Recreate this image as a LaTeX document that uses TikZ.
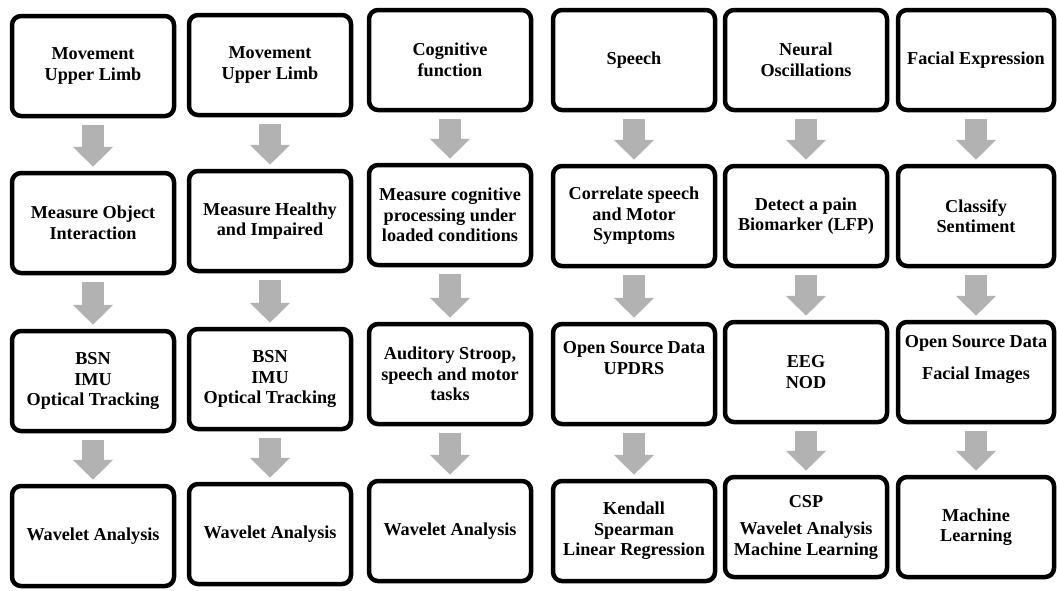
\documentclass[tikz,border=0pt]{standalone}
\usepackage{fontspec}
\setmainfont{Liberation Serif}
\usetikzlibrary{arrows.meta,shadows}

\definecolor{arrowgrey}{RGB}{178,178,178}

\tikzset{
  stage/.style={draw, line width=4.5pt, rounded corners=9pt, fill=white,
    minimum width=162pt, minimum height=100pt, inner sep=1pt, align=center,
    font=\bfseries\fontsize{18.2}{20.5}\selectfont,
    drop shadow={opacity=0.25, shadow xshift=1.5pt, shadow yshift=-1.5pt}},
  flow/.style={draw=arrowgrey, line width=22pt,
    -{Triangle[length=20pt,width=39pt]}, shorten <=7pt, shorten >=4pt}
}

\begin{document}
\begin{tikzpicture}[x=1pt,y=-1pt]
\useasboundingbox (0,0) rectangle (1057,590);

% object interaction
\node[stage] (obj1) at (93,66) {Movement\\Upper Limb};
\node[stage] (obj2) at (93,223) {Measure Object\\Interaction};
\node[stage] (obj3) at (93,381) {BSN\\IMU\\Optical Tracking};
\node[stage] (obj4) at (93,536) {Wavelet Analysis};

% healthy vs impaired
\node[stage] (heal1) at (270,65) {Movement\\Upper Limb};
\node[stage] (heal2) at (270,221) {Measure Healthy\\and Impaired};
\node[stage] (heal3) at (270,379) {BSN\\IMU\\Optical Tracking};
\node[stage] (heal4) at (270,534) {Wavelet Analysis};

% cognitive
\node[stage] (cog1) at (450,60) {Cognitive\\function};
\node[stage] (cog2) at (450,215) {Measure cognitive\\processing under\\loaded conditions};
\node[stage] (cog3) at (450,374) {Auditory Stroop,\\speech and motor\\tasks};
\node[stage] (cog4) at (450,531) {Wavelet Analysis};

% speech
\node[stage] (sp1) at (634,60) {Speech};
\node[stage] (sp2) at (634,216) {Correlate speech\\and Motor\\Symptoms};
\node[stage] (sp3) at (634,374) {Open Source Data\\UPDRS\\[12pt]\mbox{}};
\node[stage] (sp4) at (634,531) {Kendall\\Spearman\\Linear Regression};

% neural
\node[stage] (neu1) at (806,60) {Neural\\Oscillations};
\node[stage] (neu2) at (806,216) {Detect a pain\\Biomarker (LFP)};
\node[stage] (neu3) at (806,372) {EEG\\NOD};
\node[stage] (neu4) at (806,527) {CSP\\[7pt]Wavelet Analysis\\Machine Learning};

% facial
\node[stage, minimum width=156pt] (face1) at (976,60) {Facial Expression};
\node[stage, minimum width=156pt] (face2) at (976,216) {Classify\\Sentiment};
\node[stage, minimum width=156pt] (face3) at (976,372) {Open Source Data\\[12pt]Facial Images\\[9pt]\mbox{}};
\node[stage, minimum width=156pt] (face4) at (976,527) {Machine\\Learning};

% grey arrows down each column
\foreach \col in {obj,heal,cog,sp,neu,face}{
  \draw[flow] (\col1.south) -- (\col2.north);
  \draw[flow] (\col2.south) -- (\col3.north);
  \draw[flow] (\col3.south) -- (\col4.north);
}
\end{tikzpicture}
\end{document}
